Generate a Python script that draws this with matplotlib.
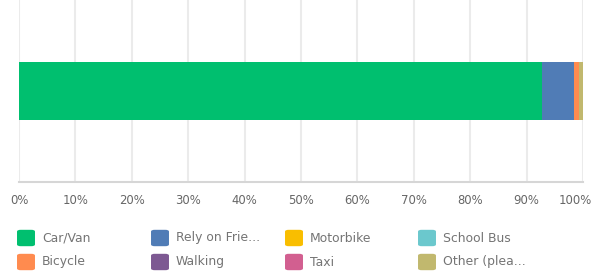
import matplotlib.pyplot as plt
from matplotlib.patches import FancyBboxPatch
from matplotlib.transforms import ScaledTranslation

# answer categories and their share of responses (%)
categories = ['Car/Van', 'Rely on Frie...', 'Motorbike', 'School Bus',
              'Bicycle', 'Walking', 'Taxi', 'Other (plea...']
shares = [92.8, 5.6, 0.0, 0.0, 0.9, 0.0, 0.0, 0.7]
colors = ['#00bf6f', '#507cb6', '#f9be00', '#6bc8cd',
          '#ff8b4f', '#7d5992', '#d25f90', '#c1b86e']
tick_vals = list(range(0, 101, 10))
tick_labels = [f'{v}%' for v in tick_vals]

W, H = 594, 276
fig = plt.figure(figsize=(W / 100, H / 100), dpi=100)
ax = fig.add_axes([19 / W, 1 - 182 / H, 564 / W, 182 / H])

left = 0
for val, col in zip(shares, colors):
    if val > 0:
        ax.barh(0, val, left=left, height=0.315, color=col, linewidth=0, zorder=3)
    left += val

ax.set_xlim(0, 100)
ax.set_ylim(-0.5, 0.5)
ax.set_yticks([])
ax.set_xticks(tick_vals)
ax.set_xticklabels(tick_labels, fontsize=8.4, color='#666666')
ax.tick_params(axis='x', length=0, pad=9)
# last label pulled in so it stays inside the figure
last = ax.get_xticklabels()[-1]
last.set_transform(last.get_transform() + ScaledTranslation(-8 / 100, 0, fig.dpi_scale_trans))
for v in tick_vals:
    ax.axvline(v, color='#ebebeb', lw=1.5, zorder=1)
for s in ['top', 'right', 'left']:
    ax.spines[s].set_visible(False)
ax.spines['bottom'].set_color('#d6d6d6')
ax.spines['bottom'].set_linewidth(1.5)

# legend, 4 columns, row-major
col_x = [17, 151, 285, 418]
row_y = [238, 262]
sq = 18
for i, (name, col) in enumerate(zip(categories, colors)):
    x = col_x[i % 4]
    y = row_y[i // 4]
    fig.patches.append(FancyBboxPatch(((x + 1.5) / W, 1 - (y + sq / 2 - 1.5) / H),
                                      (sq - 3) / W, (sq - 3) / H,
                                      boxstyle='round,pad=0.0025,rounding_size=0.006',
                                      transform=fig.transFigure, facecolor=col,
                                      edgecolor='none'))
    fig.text((x + 25) / W, 1 - y / H, name, fontsize=8.9, color='#747474',
             va='center', ha='left')

fig.savefig('out.png', dpi=100)
